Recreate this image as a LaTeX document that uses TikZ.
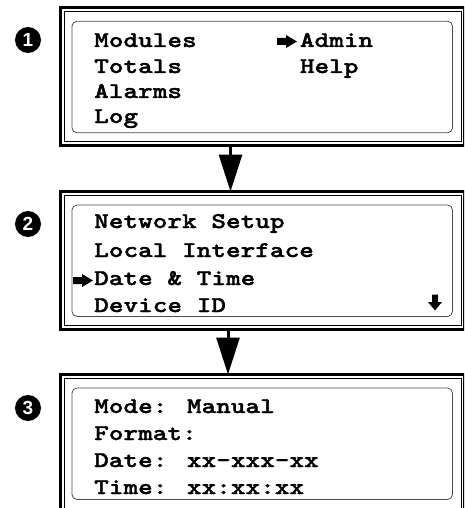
\documentclass[tikz,border=0pt]{standalone}
\usepackage{fontspec}
\newfontfamily\lcdfont[FakeStretch=1.24,FakeBold=1.5]{lmmonolt10-bold.otf}
\newfontfamily\badgefont{Liberation Sans}
\usepackage{tikz}
\usetikzlibrary{positioning,arrows.meta,calc}

\tikzset{
  pointer/.pic={
    \fill (-10,-3.5) -- (-1,-3.5) -- (-1,-6.5) -- (10,0) -- (-1,6.5) -- (-1,3.5) -- (-10,3.5) -- cycle;
  },
  scrolldown/.pic={
    \fill (-3,-8) -- (-3,-0.5) -- (-7,-0.5) -- (0,8) -- (7,-0.5) -- (3,-0.5) -- (3,-8) -- cycle;
  }
}

\begin{document}
\begin{tikzpicture}[
  x=1pt, y=-1pt,
  screen/.style={
    draw,
    line width=3pt,
    minimum width=404pt,
    minimum height=138pt,
    inner sep=0pt,
    outer sep=0pt
  },
  lcd/.style={
    font=\lcdfont\fontsize{22.5}{22.5}\selectfont,
    anchor=base west,
    inner sep=0pt
  },
  badge/.style={
    circle, fill=black, text=white,
    font=\badgefont\bfseries\fontsize{19}{19}\selectfont,
    minimum size=26pt, inner sep=0pt
  },
  flow/.style={line width=3pt, -{Triangle[length=37pt, width=23pt]}}
]

\useasboundingbox (0,0) rectangle (464,508);
\clip (0,0) rectangle (464,508);

% Screens
\node[screen] (screen1) at (262.5,76.75) {};
\node[screen] (screen2) at (262.5,260.5) {};
\node[screen] (screen3) at (262.5,443.5) {};

% Inner frames
\foreach \s in {screen1,screen2,screen3} {
  \draw[line width=1pt] ($(\s.north west)+(3.5,4)$) rectangle ($(\s.south east)+(-3,-4)$);
  \draw[line width=0.8pt, draw=black!70, rounded corners=5pt]
    ($(\s.north west)+(11.5,13.5)$) rectangle ($(\s.south east)+(-12,-13)$);
}

% Step numbers
\node[badge] (step1) at (28,40) {1};
\node[badge] (step2) at (28,224) {2};
\node[badge] (step3) at (28,408) {3};

% Screen 1: main menu
\node[lcd] (modules) at (94,47) {Modules};
\node[lcd] (totals) at (94,73) {Totals};
\node[lcd] (alarms) at (94,98) {Alarms};
\node[lcd] (log) at (94,123) {Log};
\node[lcd] (admin) at (299.7,47) {Admin};
\node[lcd] (help) at (299.7,73) {Help};
\pic at (287,41.5) {pointer};

% Screen 2: admin menu
\node[lcd] (network) at (94,228) {Network Setup};
\node[lcd] (local) at (94,257) {Local Interface};
\node[lcd] (datetime) at (94,285) {Date \& Time};
\node[lcd] (device) at (94,312) {Device ID};
\pic at (83,280.5) {pointer};
\pic at (435,302.5) {scrolldown};

% Screen 3: date and time
\node[lcd] (mode) at (94,413) {Mode: Manual};
\node[lcd] (format) at (94,440) {Format:};
\node[lcd] (date) at (94,467) {Date: xx-xxx-xx};
\node[lcd] (time) at (94,494) {Time: xx:xx:xx};

% Flow arrows
\coordinate (lane1) at (230.5,0);
\coordinate (lane2) at (228,0);
\draw[flow] (screen1.south -| lane1) -- (screen2.north -| lane1);
\draw[flow] (screen2.south -| lane2) -- (screen3.north -| lane2);

\end{tikzpicture}
\end{document}
